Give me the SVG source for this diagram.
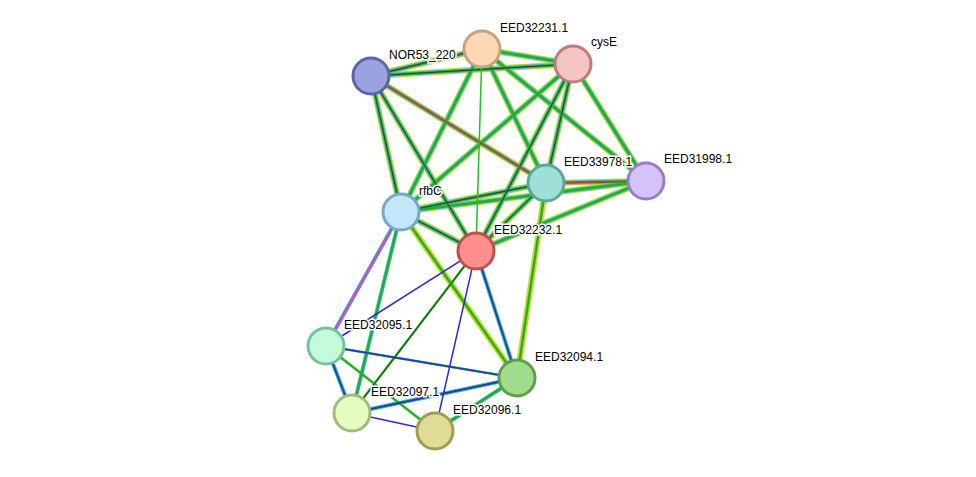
<svg xmlns="http://www.w3.org/2000/svg" xmlns:xlink="http://www.w3.org/1999/xlink" width="976" height="477" viewBox="0 0 976 477">
<style>
.y{stroke:#c8d830;stroke-width:6;fill:none}
.c{stroke:#40b8e0;stroke-width:4;fill:none}
.g{stroke:#22b022;stroke-width:2.4;fill:none}
.k{stroke:#333;stroke-width:1;fill:none}
.r{stroke:#e03030;stroke-width:1.5;fill:none}
.b{stroke:#2a2ae0;stroke-width:1.5;fill:none}
.gs{stroke:#22c022;stroke-width:1.5;fill:none}
.p{stroke:#e040e0;stroke-width:2;fill:none}
circle{stroke-width:3}
text{font-family:"Liberation Sans",Arial,sans-serif;font-size:12px;fill:#000;paint-order:stroke;stroke:#fff;stroke-width:3px}
</style>
<defs>
<path id="e1" d="M371,76L482,49"/><path id="e2" d="M371,76L573,64"/><path id="e3" d="M371,76L546,183"/>
<path id="e5" d="M371,76L401,212"/><path id="e6" d="M371,76L476,251"/><path id="e7" d="M482,49L573,64"/>
<path id="e8" d="M482,49L546,183"/><path id="e9" d="M482,49L646,181"/><path id="e10" d="M482,49L401,212"/>
<path id="e12" d="M573,64L546,183"/><path id="e13" d="M573,64L646,181"/><path id="e14" d="M573,64L401,212"/>
<path id="e15" d="M573,64L476,251"/><path id="e16" d="M546,183L646,181"/><path id="e17" d="M546,183L401,212"/>
<path id="e18" d="M546,183L476,251"/><path id="e19" d="M546,183L517,378"/><path id="e20" d="M646,181L401,212"/>
<path id="e21" d="M646,181L476,251"/><path id="e22" d="M401,212L476,251"/><path id="e23" d="M401,212L326,346"/>
<path id="e24" d="M401,212L352,413"/><path id="e25" d="M401,212L517,378"/><path id="e27" d="M476,251L517,378"/>
<path id="e28" d="M476,251L352,413"/><path id="e30" d="M326,346L517,378"/><path id="e31" d="M326,346L352,413"/>
<path id="e32" d="M326,346L435,431"/><path id="e33" d="M352,413L517,378"/><path id="e35" d="M435,431L517,378"/>
</defs>
<g id="connectors">
<g id="full">
<use href="#e1" class="y"/><use href="#e2" class="y"/><use href="#e3" class="y"/><use href="#e5" class="y"/><use href="#e6" class="y"/><use href="#e7" class="y"/><use href="#e8" class="y"/><use href="#e9" class="y"/><use href="#e10" class="y"/><use href="#e12" class="y"/><use href="#e13" class="y"/><use href="#e14" class="y"/><use href="#e15" class="y"/><use href="#e16" class="y"/><use href="#e17" class="y"/><use href="#e18" class="y"/><use href="#e19" class="y"/><use href="#e20" class="y"/><use href="#e21" class="y"/><use href="#e22" class="y"/><use href="#e25" class="y"/>
<use href="#e1" class="c"/><use href="#e2" class="c"/><use href="#e3" class="c"/><use href="#e5" class="c"/><use href="#e6" class="c"/><use href="#e7" class="c"/><use href="#e8" class="c"/><use href="#e9" class="c"/><use href="#e10" class="c"/><use href="#e12" class="c"/><use href="#e13" class="c"/><use href="#e14" class="c"/><use href="#e15" class="c"/><use href="#e16" class="c"/><use href="#e17" class="c"/><use href="#e18" class="c"/><use href="#e20" class="c"/><use href="#e21" class="c"/><use href="#e22" class="c"/><use href="#e23" class="c"/><use href="#e24" class="c"/><use href="#e27" class="c"/><use href="#e31" class="c"/><use href="#e33" class="c"/><use href="#e35" class="c"/>
<use href="#e1" class="g"/><use href="#e2" class="g"/><use href="#e3" class="g"/><use href="#e5" class="g"/><use href="#e6" class="g"/><use href="#e7" class="g"/><use href="#e8" class="g"/><use href="#e9" class="g"/><use href="#e10" class="g"/><use href="#e12" class="g"/><use href="#e13" class="g"/><use href="#e14" class="g"/><use href="#e15" class="g"/><use href="#e16" class="g"/><use href="#e17" class="g"/><use href="#e18" class="g"/><use href="#e19" class="g"/><use href="#e20" class="g"/><use href="#e21" class="g"/><use href="#e22" class="g"/><use href="#e23" class="g"/><use href="#e24" class="g"/><use href="#e25" class="g"/><use href="#e27" class="g"/><use href="#e28" class="g"/><use href="#e30" class="g"/><use href="#e31" class="g"/><use href="#e32" class="g"/><use href="#e33" class="g"/><use href="#e35" class="g"/>
<use href="#e1" class="k"/><use href="#e2" class="k"/><use href="#e5" class="k"/><use href="#e6" class="k"/><use href="#e12" class="k"/><use href="#e15" class="k"/><use href="#e16" class="k"/><use href="#e17" class="k"/><use href="#e18" class="k"/><use href="#e22" class="k"/><use href="#e28" class="k"/><use href="#e33" class="k"/>
<use href="#e3" class="r"/><use href="#e16" class="r"/><use href="#e23" class="p"/>
<use href="#e27" class="b"/><use href="#e30" class="b"/><use href="#e31" class="b"/><use href="#e33" class="b"/>
</g>
<line class="gs" x1="482" y1="49" x2="476" y2="251"/>
<line class="b" x1="476" y1="251" x2="326" y2="346"/>
<line class="b" x1="476" y1="251" x2="435" y2="431"/>
<line class="b" x1="352" y1="413" x2="435" y2="431"/>
</g>
<g id="NOR53_220"><circle cx="371" cy="76" r="18" fill="#9aa3e0" stroke="#5a66a8"/><text x="389" y="59">NOR53_220</text></g>
<g id="EED32231.1"><circle cx="482" cy="49" r="18" fill="#fcd9b4" stroke="#c8a27a"/><text x="500" y="32">EED32231.1</text></g>
<g id="cysE"><circle cx="573" cy="64" r="18" fill="#f7c4c4" stroke="#c07b7b"/><text x="591" y="46">cysE</text></g>
<g id="EED31998.1"><circle cx="646" cy="181" r="18" fill="#d4c2f8" stroke="#9a7cc8"/><text x="664" y="163">EED31998.1</text></g>
<g id="EED33978.1"><circle cx="546" cy="183" r="18" fill="#9ee0d8" stroke="#5aa89c"/><text x="564" y="166">EED33978.1</text></g>
<g id="rfbC"><circle cx="401" cy="212" r="18" fill="#c2e6fa" stroke="#7aa8c4"/><text x="419" y="195">rfbC</text></g>
<g id="EED32232.1"><circle cx="476" cy="251" r="18" fill="#ff8f8f" stroke="#c05050"/><text x="494" y="234">EED32232.1</text></g>
<g id="EED32095.1"><circle cx="326" cy="346" r="18" fill="#c4fbdc" stroke="#7ac09a"/><text x="344" y="329">EED32095.1</text></g>
<g id="EED32094.1"><circle cx="517" cy="378" r="18" fill="#a0dc8c" stroke="#5ea04a"/><text x="535" y="361">EED32094.1</text></g>
<g id="EED32097.1"><circle cx="352" cy="413" r="18" fill="#e4fcc0" stroke="#a0bc7a"/><text x="371" y="396">EED32097.1</text></g>
<g id="EED32096.1"><circle cx="435" cy="431" r="18" fill="#dedc96" stroke="#a09c50"/><text x="453" y="414">EED32096.1</text></g>
</svg>
